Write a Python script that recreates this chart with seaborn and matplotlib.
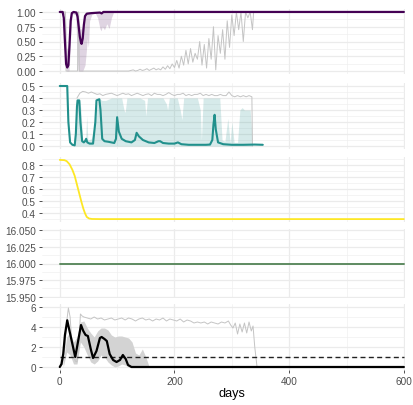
import matplotlib
matplotlib.use("Agg")
import matplotlib.pyplot as plt
from matplotlib.ticker import FixedLocator, FixedFormatter
import seaborn as sns

# ---------------- data ----------------
# panel 1: proportion (median, band, single run)
p1_days = [0, 5, 7, 9, 11, 13, 15, 17, 19, 21, 24, 29, 31, 33, 35, 37, 38, 40, 42, 44, 47, 55, 70, 73, 76, 90, 600]
p1_med = [1.0, 1.0, 0.9, 0.5, 0.12, 0.06, 0.1, 0.45, 0.85, 0.98, 1.0, 0.99, 0.92, 0.75, 0.58,
          0.48, 0.46, 0.55, 0.78, 0.93, 0.97, 0.98, 0.99, 0.975, 1.0, 1.0, 1.0]
b1_days = [0, 8, 10, 12, 16, 18, 20, 22, 28, 30, 32, 36, 40, 44, 46, 48, 50, 52, 56, 62,
           66, 70, 72, 74, 78, 82, 86, 90, 94, 600]
b1_lo = [1.0, 0.95, 0.3, 0.0, 0.0, 0.3, 0.8, 0.97, 0.95, 0.3, 0.0, 0.0, 0.0, 0.1, 0.3,
         0.55, 0.4, 0.85, 0.96, 0.98, 0.9, 0.72, 0.68, 0.75, 0.7, 0.8, 0.72, 0.9, 1.0, 1.0]
b1_hi = [1.0, 1.0, 0.9, 0.4, 0.3, 0.7, 1.0, 1.0, 1.0, 1.0, 0.95, 0.7, 0.75, 0.95, 1.0,
         1.0, 1.0, 1.0, 1.0, 1.0, 1.0, 1.0, 1.0, 1.0, 1.0, 1.0, 1.0, 1.0, 1.0, 1.0]
g1_days = [0, 10, 11, 31, 32, 33, 34, 60, 90, 120,
           124, 128, 132, 136, 140, 144, 148, 152, 156, 160,
           164, 168, 172, 176, 180, 184, 188, 192, 196, 200,
           204, 208, 212, 216, 220, 224, 228, 232, 236, 240,
           244, 248, 252, 256, 260, 264, 268, 272, 276, 280,
           284, 288, 292, 296, 300, 304, 308, 312, 316, 320,
           324, 328, 332, 336, 338]
g1_vals = [1.0, 1.0, 0.0, 0.0, 1.0, 1.0, 0.0, 0.0, 0.0, 0.0,
           0.01, 0.02, 0.0, 0.01, 0.03, 0.01, 0.02, 0.04, 0.01, 0.03,
           0.05, 0.02, 0.04, 0.02, 0.07, 0.03, 0.09, 0.04, 0.12, 0.06,
           0.18, 0.05, 0.25, 0.10, 0.35, 0.12, 0.38, 0.15, 0.30, 0.20,
           0.50, 0.10, 0.45, 0.05, 0.55, 0.20, 0.75, 0.02, 0.60, 0.30,
           0.70, 0.20, 0.85, 0.40, 0.95, 0.60, 1.0, 0.70, 1.0, 0.50,
           1.0, 0.90, 1.0, 0.70, 1.0]

# panel 2
p2_days = [0, 13, 15, 18, 22, 26, 28, 30, 31, 34, 36, 39, 42, 44, 46, 48, 52, 58, 62, 64,
           69, 71, 74, 78, 85, 95, 98, 100, 103, 108, 115, 125, 131, 134, 138, 145, 155, 165,
           172, 175, 180, 190, 200, 206, 212, 225, 240, 255, 262, 266, 268, 270, 272, 276,
           285, 300, 320, 340, 354]
p2_med = [0.5, 0.5, 0.2, 0.03, 0.01, 0.005, 0.1, 0.33, 0.38, 0.38, 0.2, 0.04, 0.03, 0.04,
          0.06, 0.03, 0.02, 0.02, 0.2, 0.38, 0.39, 0.3, 0.06, 0.04, 0.035, 0.025, 0.06, 0.24,
          0.12, 0.06, 0.04, 0.03, 0.05, 0.11, 0.08, 0.05, 0.03, 0.025, 0.04, 0.04, 0.025,
          0.02, 0.02, 0.03, 0.015, 0.01, 0.01, 0.01, 0.012, 0.05, 0.18, 0.26, 0.14, 0.03,
          0.015, 0.01, 0.01, 0.012, 0.01]
b2_days = [26, 29, 31, 35, 37, 40, 45, 47, 49, 55, 62, 66, 70, 74, 80, 90, 100, 108, 112, 114,
           117, 125, 140, 148, 150, 153, 165, 180, 186, 188, 191, 205, 210, 213, 216, 225, 240,
           245, 247, 250, 258, 270, 279, 283, 288, 293, 297, 300, 304, 310, 314, 318, 322, 328,
           332, 335, 336]
b2_hi = [0.0, 0.3, 0.38, 0.38, 0.3, 0.05, 0.05, 0.25, 0.05, 0.06, 0.2, 0.39, 0.39, 0.38, 0.38,
         0.4, 0.4, 0.4, 0.3, 0.28, 0.4, 0.4, 0.4, 0.38, 0.25, 0.4, 0.4, 0.4, 0.35, 0.3, 0.4,
         0.4, 0.3, 0.22, 0.4, 0.4, 0.4, 0.3, 0.05, 0.4, 0.4, 0.4, 0.4, 0.05, 0.04, 0.23, 0.03,
         0.2, 0.03, 0.03, 0.3, 0.32, 0.3, 0.3, 0.3, 0.1, 0.0]
g2_days = [30, 35, 40, 45, 50, 55, 60, 65, 70, 75, 80, 85, 90, 95, 100, 105, 110, 115, 120, 125,
           130, 135, 140, 145, 150, 155, 160, 165, 170, 175, 180, 185, 190, 195, 200, 205, 210,
           215, 220, 225, 230, 235, 240, 245, 250, 255, 260, 265, 270, 275, 280, 285, 290, 295,
           300, 305, 310, 315, 320, 325, 330, 335, 336]
g2_vals = [0.40, 0.44, 0.455, 0.45, 0.44, 0.45, 0.44, 0.43, 0.435, 0.42,
           0.43, 0.435, 0.44, 0.43, 0.42, 0.43, 0.44, 0.43, 0.435, 0.42,
           0.43, 0.44, 0.43, 0.42, 0.43, 0.435, 0.42, 0.44, 0.43, 0.43,
           0.42, 0.43, 0.445, 0.43, 0.42, 0.43, 0.43, 0.44, 0.42, 0.43,
           0.42, 0.43, 0.43, 0.44, 0.42, 0.43, 0.42, 0.43, 0.42, 0.42,
           0.43, 0.42, 0.42, 0.45, 0.42, 0.41, 0.42, 0.41, 0.42, 0.41,
           0.42, 0.41, 0.0]

# panel 3
p3_days = [0, 8, 12, 17, 22, 26, 29, 32, 35, 38, 41, 44, 47, 51, 56, 70, 600]
p3_vals = [0.842, 0.84, 0.832, 0.806, 0.76, 0.71, 0.655, 0.6, 0.545, 0.49, 0.44, 0.4, 0.37,
           0.357, 0.353, 0.352, 0.352]

# panel 4
p4_days = [0, 600]
p4_vals = [16.0, 16.0]

# panel 5
p5_days = [0, 3, 6, 9, 13, 17, 22, 27, 32, 37, 41, 45, 49, 54, 58, 64, 70, 73, 78, 82, 87, 93,
           99, 105, 110, 115, 119, 125, 600]
p5_med = [0.0, 0.3, 1.3, 3.2, 4.67, 3.6, 2.3, 1.0, 2.6, 4.2, 3.6, 3.2, 3.1, 1.8, 0.9, 1.6, 2.9,
          3.0, 2.8, 2.6, 1.3, 0.7, 0.5, 0.7, 1.2, 0.8, 0.2, 0.0, 0.0]
b5_days = [6, 12, 18, 24, 30, 36, 42, 48, 54, 60, 66, 72, 78, 84, 90, 96, 102, 108, 114, 120,
           126, 132, 138, 144, 150, 156]
b5_hi = [0.5, 3.0, 3.5, 2.5, 3.0, 4.5, 4.6, 3.9, 3.4, 3.0, 3.6, 3.9, 3.9, 3.7, 3.2, 3.0, 3.1,
         3.1, 3.0, 2.9, 2.5, 1.4, 1.2, 1.8, 1.0, 0.0]
b5_lo = [0.0, 1.5, 1.2, 0.3, 0.3, 2.5, 2.0, 1.2, 0.5, 0.3, 0.6, 1.2, 1.0, 0.5, 0.2, 0.0, 0.1,
         0.3, 0.2, 0.0, 0.0, 0.0, 0.0, 0.0, 0.0, 0.0]
g5_days = [0, 5, 9, 12, 15, 18, 21, 24, 27, 30, 33, 36, 39, 42, 48, 54, 60, 66, 72, 78, 84, 90,
           96, 102, 108, 114, 120, 126, 132, 138, 144, 150, 156, 162, 168, 174, 180, 186, 192,
           198, 204, 210, 216, 222, 228, 234, 240, 246, 252, 258, 264, 270, 276, 282, 288, 294,
           298, 302, 306, 310, 314, 318, 322, 326, 330, 334, 337, 340, 344, 600]
g5_vals = [0.0, 0.3, 2.0, 4.5, 5.9, 5.0, 2.5, 1.2, 0.6, 0.5, 2.0, 5.3, 5.1,
           5.0, 4.9, 4.8, 5.0, 4.8, 4.9, 4.7, 4.8, 4.9, 4.7,
           4.8, 4.9, 4.7, 4.9, 4.8, 4.6, 4.8, 4.9, 4.7, 4.8,
           4.6, 4.8, 4.7, 4.9, 4.6, 4.8, 4.7, 4.6, 4.8, 4.5,
           4.7, 4.6, 4.4, 4.5, 4.4, 4.5, 4.3, 4.5, 4.4, 4.3,
           4.5, 4.4, 4.6, 4.2, 3.9, 4.4, 3.3, 4.3, 3.5, 4.4,
           3.4, 4.5, 3.6, 4.1, 2.0, 0.0, 0.0]
thr_days = [0, 600]
thr_vals = [1.0, 1.0]

# axis ticks
x_ticks = [0, 200, 400, 600]
x_labels = ["0", "200", "400", "600"]
x_minor = [100, 300, 500]
p1_ticks = [0.0, 0.25, 0.5, 0.75, 1.0]
p1_labels = ["0.00", "0.25", "0.50", "0.75", "1.00"]
p2_ticks = [0.0, 0.1, 0.2, 0.3, 0.4, 0.5]
p2_labels = ["0.0", "0.1", "0.2", "0.3", "0.4", "0.5"]
p3_ticks = [0.4, 0.5, 0.6, 0.7, 0.8]
p3_labels = ["0.4", "0.5", "0.6", "0.7", "0.8"]
p4_ticks = [15.95, 15.975, 16.0, 16.025, 16.05]
p4_labels = ["15.950", "15.975", "16.000", "16.025", "16.050"]
p5_ticks = [0, 2, 4, 6]
p5_labels = ["0", "2", "4", "6"]

# ---------------- figure ----------------
sns.set_theme(style="white")
plt.rcParams['font.family'] = ['Liberation Sans', 'DejaVu Sans']

W, H = 414, 406
fig = plt.figure(figsize=(W / 100, H / 100), dpi=100)


def panel(top, bottom, ylim, ticks, labels, minor, bottom_axis=False):
    left, right = 42, 405
    ax = fig.add_axes([left / W, 1 - bottom / H, (right - left) / W, (bottom - top) / H])
    ax.set_facecolor("white")
    ax.set_xlim(-31, 602)
    ax.set_ylim(*ylim)
    ax.xaxis.set_major_locator(FixedLocator(x_ticks))
    ax.xaxis.set_minor_locator(FixedLocator(x_minor))
    ax.yaxis.set_major_locator(FixedLocator(ticks))
    ax.yaxis.set_major_formatter(FixedFormatter(labels))
    ax.yaxis.set_minor_locator(FixedLocator(minor))
    ax.grid(which="major", color="#EBEBEB", linewidth=0.9)
    ax.grid(which="minor", color="#EFEFEF", linewidth=0.45)
    ax.set_axisbelow(True)
    for s in ax.spines.values():
        s.set_visible(False)
    ax.tick_params(axis="y", which="major", length=2.2, width=0.6, color="#333333",
                   labelsize=7.2, labelcolor="#4D4D4D", pad=2.2, left=True)
    ax.tick_params(axis="both", which="minor", length=0)
    if bottom_axis:
        ax.xaxis.set_major_formatter(FixedFormatter(x_labels))
        ax.tick_params(axis="x", which="major", length=2.2, width=0.6, color="#333333",
                       labelsize=7.2, labelcolor="#4D4D4D", pad=2.2, bottom=True)
    else:
        ax.tick_params(axis="x", which="major", length=0, labelbottom=False)
    return ax


grey_line = "#C4C4C4"

ax1 = panel(10, 75, (-0.05, 1.05), p1_ticks, p1_labels, [0.125, 0.375, 0.625, 0.875])
ax1.fill_between(b1_days, b1_lo, b1_hi, color="#440154", alpha=0.17, linewidth=0)
sns.lineplot(x=g1_days, y=g1_vals, ax=ax1, color=grey_line, linewidth=0.7, errorbar=None)
sns.lineplot(x=p1_days, y=p1_med, ax=ax1, color="#440154", linewidth=1.6, errorbar=None)

ax2 = panel(84, 150, (-0.025, 0.525), p2_ticks, p2_labels, [0.05, 0.15, 0.25, 0.35, 0.45])
ax2.fill_between(b2_days, 0, b2_hi, color="#21908C", alpha=0.18, linewidth=0)
sns.lineplot(x=g2_days, y=g2_vals, ax=ax2, color=grey_line, linewidth=0.7, errorbar=None)
sns.lineplot(x=p2_days, y=p2_med, ax=ax2, color="#21908C", linewidth=1.5, errorbar=None)

ax3 = panel(158, 223, (0.328, 0.866), p3_ticks, p3_labels, [0.35, 0.45, 0.55, 0.65, 0.75, 0.85])
sns.lineplot(x=p3_days, y=p3_vals, ax=ax3, color="#FDE725", linewidth=1.3, errorbar=None)

ax4 = panel(230, 299, (15.948, 16.052), p4_ticks, p4_labels, [15.9625, 15.9875, 16.0125, 16.0375])
sns.lineplot(x=p4_days, y=p4_vals, ax=ax4, color="#5E8B61", linewidth=1.4, errorbar=None)

ax5 = panel(305, 371, (-0.3, 6.3), p5_ticks, p5_labels, [1, 3, 5], bottom_axis=True)
ax5.fill_between(b5_days, b5_lo, b5_hi, color="#D3D3D3", linewidth=0)
sns.lineplot(x=g5_days, y=g5_vals, ax=ax5, color=grey_line, linewidth=0.7, errorbar=None)
sns.lineplot(x=thr_days, y=thr_vals, ax=ax5, color="#222222", linewidth=1.0,
             linestyle=(0, (3.6, 2.4)), errorbar=None)
sns.lineplot(x=p5_days, y=p5_med, ax=ax5, color="black", linewidth=1.6, errorbar=None)

for ax in (ax1, ax2, ax3, ax4):
    ax.set_xlabel("")
    ax.set_ylabel("")
ax5.set_ylabel("")
ax5.set_xlabel("days", fontsize=9.2, color="black")
ax5.xaxis.set_label_coords((232 - 42) / 363, -0.26)

fig.savefig("out.png", dpi=100)
